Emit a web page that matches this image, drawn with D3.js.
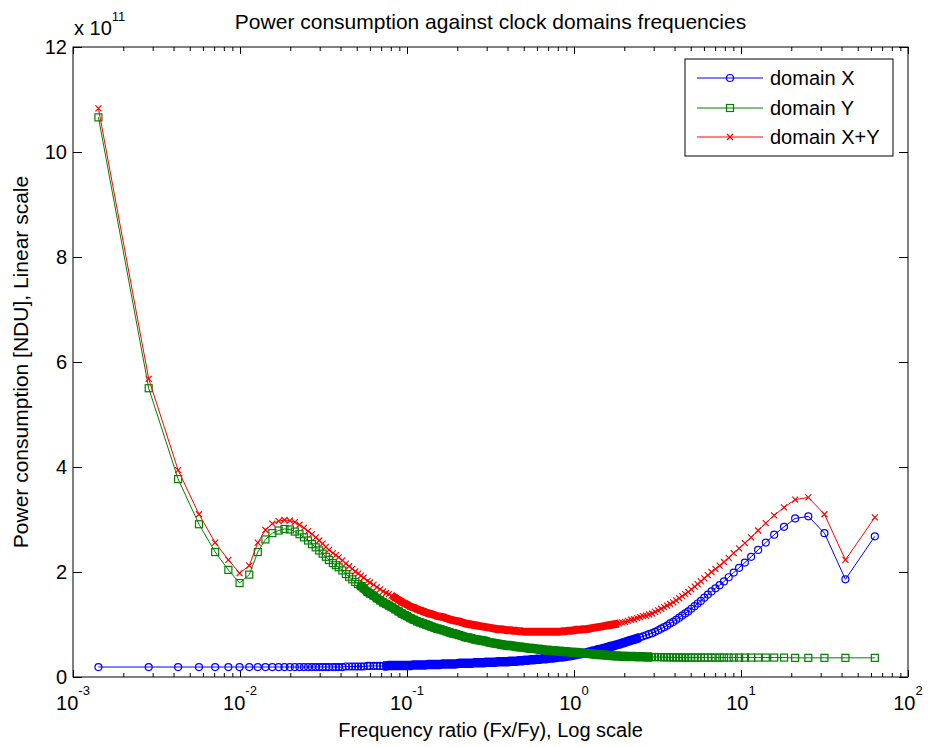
<!DOCTYPE html>
<html>
<head>
<meta charset="utf-8">
<title>Power consumption against clock domains frequencies</title>
<script src="https://cdn.jsdelivr.net/npm/d3@7"></script>
<style>
  body { margin: 0; background: #ffffff; }
  text { font-family: "Liberation Sans", Arial, Helvetica, sans-serif; fill: #000; }
</style>
</head>
<body>
<div id="chart"></div>
<script>
// Frequency ratio Fx/Fy (x axis, log scale)
var ratio = [
  0.00142, 0.00284, 0.00426, 0.00568, 0.0071, 0.00852, 0.00994, 0.01136, 0.01278, 0.0142,
  0.01562, 0.01704, 0.01846, 0.01988, 0.0213, 0.02272, 0.02414, 0.02556, 0.02698, 0.0284,
  0.02982, 0.03124, 0.03266, 0.03408,
  0.036, 0.0375, 0.039, 0.041, 0.043, 0.045, 0.047, 0.049, 0.051, 0.053,
  0.055, 0.058, 0.060, 0.063, 0.066, 0.069, 0.072, 0.075, 0.078, 0.081,
  0.085, 0.089, 0.093, 0.097, 0.100, 0.105, 0.110, 0.115, 0.120, 0.125,
  0.130, 0.135, 0.140, 0.146, 0.152, 0.158, 0.165, 0.172, 0.180, 0.188,
  0.196, 0.205, 0.214, 0.223, 0.232, 0.242, 0.252, 0.263, 0.274, 0.286,
  0.298, 0.310, 0.323, 0.337, 0.351, 0.366, 0.382, 0.398, 0.415, 0.432,
  0.450, 0.470, 0.490, 0.510, 0.530, 0.555, 0.580, 0.605, 0.630, 0.655,
  0.685, 0.715, 0.745, 0.775, 0.810, 0.845, 0.880, 0.920, 0.960, 1.000,
  1.04, 1.085, 1.13, 1.18, 1.23, 1.28, 1.335, 1.39, 1.45, 1.51,
  1.575, 1.64, 1.71, 1.785, 1.86, 1.94, 2.02, 2.105, 2.195, 2.29,
  2.385, 2.485, 2.59, 2.70, 2.815, 2.935, 3.06, 3.19, 3.325, 3.465,
  3.61, 3.765, 3.925, 4.09, 4.265, 4.445, 4.635, 4.83, 5.04,
  5.275, 5.50, 5.75, 6.03, 6.33, 6.66, 7.03, 7.45, 7.91, 8.44,
  9.04, 9.74, 10.55, 11.5, 12.66, 14.07, 15.8, 18.1, 21.1, 25.3,
  31.6, 42.2, 63.3
];

// Power of domain X (x 1e11 NDU)
var powerX = [
  0.19, 0.19, 0.19, 0.19, 0.19, 0.19, 0.19, 0.19, 0.19, 0.19,
  0.19, 0.19, 0.19, 0.19, 0.19, 0.19, 0.19, 0.19, 0.19, 0.19,
  0.19, 0.19, 0.19, 0.19,
  0.19, 0.19, 0.19, 0.19, 0.20, 0.20, 0.20, 0.20, 0.20, 0.20,
  0.20, 0.21, 0.21, 0.21, 0.21, 0.21, 0.21, 0.21, 0.22, 0.22,
  0.22, 0.22, 0.22, 0.22, 0.22, 0.22, 0.23, 0.23, 0.23, 0.23,
  0.23, 0.24, 0.24, 0.24, 0.24, 0.24, 0.25, 0.25, 0.25, 0.25,
  0.25, 0.26, 0.26, 0.26, 0.26, 0.26, 0.27, 0.27, 0.27, 0.27,
  0.28, 0.28, 0.28, 0.28, 0.29, 0.29, 0.29, 0.29, 0.30, 0.30,
  0.30, 0.31, 0.31, 0.32, 0.32, 0.33, 0.33, 0.34, 0.34, 0.35,
  0.35, 0.36, 0.36, 0.37, 0.38, 0.38, 0.39, 0.40, 0.41, 0.42,
  0.43, 0.44, 0.45, 0.46, 0.475, 0.49, 0.50, 0.52, 0.53, 0.545,
  0.56, 0.58, 0.59, 0.61, 0.625, 0.645, 0.66, 0.68, 0.70, 0.715,
  0.735, 0.755, 0.775, 0.795, 0.815, 0.835, 0.86, 0.89, 0.92, 0.95,
  0.98, 1.02, 1.05, 1.09, 1.13, 1.17, 1.21, 1.25, 1.30,
  1.35, 1.40, 1.45, 1.51, 1.57, 1.63, 1.69, 1.75, 1.82, 1.90,
  1.99, 2.08, 2.18, 2.29, 2.42, 2.56, 2.71, 2.86, 3.02, 3.06,
  2.74, 1.86, 2.68
];

// Power of domain Y
var powerY = [
  10.66, 5.50, 3.77, 2.91, 2.38, 2.04, 1.79, 1.95, 2.38, 2.62,
  2.74, 2.79, 2.82, 2.81, 2.77, 2.72, 2.66, 2.60, 2.53, 2.47,
  2.41, 2.35, 2.29, 2.23,
  2.17, 2.13, 2.09, 2.03, 1.96, 1.91, 1.86, 1.81, 1.77, 1.73,
  1.69, 1.62, 1.59, 1.55, 1.50, 1.46, 1.42, 1.39, 1.36, 1.33,
  1.29, 1.25, 1.21, 1.18, 1.16, 1.12, 1.09, 1.06, 1.04, 1.02,
  1.00, 0.98, 0.96, 0.94, 0.92, 0.91, 0.89, 0.87, 0.85, 0.83,
  0.82, 0.80, 0.78, 0.76, 0.75, 0.74, 0.72, 0.71, 0.70, 0.69,
  0.68, 0.66, 0.65, 0.64, 0.63, 0.62, 0.61, 0.60, 0.60, 0.59,
  0.58, 0.57, 0.57, 0.56, 0.55, 0.55, 0.54, 0.53, 0.53, 0.52,
  0.51, 0.51, 0.50, 0.50, 0.49, 0.49, 0.48, 0.48, 0.47, 0.47,
  0.465, 0.46, 0.455, 0.45, 0.445, 0.44, 0.435, 0.43, 0.425, 0.42,
  0.415, 0.41, 0.405, 0.40, 0.40, 0.395, 0.395, 0.39, 0.39, 0.39,
  0.385, 0.385, 0.385, 0.38, 0.38, 0.38, 0.38, 0.38, 0.378, 0.377,
  0.376, 0.375, 0.374, 0.373, 0.372, 0.371, 0.37, 0.37, 0.37,
  0.37, 0.37, 0.37, 0.37, 0.37, 0.37, 0.37, 0.37, 0.37, 0.37,
  0.37, 0.37, 0.37, 0.37, 0.37, 0.37, 0.37, 0.37, 0.365, 0.365,
  0.365, 0.365, 0.365
];

// Power of domain X+Y
var powerXY = [
  10.83, 5.68, 3.94, 3.10, 2.56, 2.23, 1.98, 2.12, 2.56, 2.80,
  2.92, 2.97, 2.99, 2.98, 2.95, 2.90, 2.84, 2.78, 2.72, 2.66,
  2.60, 2.54, 2.48, 2.42,
  2.36, 2.32, 2.28, 2.22, 2.16, 2.11, 2.06, 2.01, 1.97, 1.93,
  1.89, 1.83, 1.80, 1.76, 1.71, 1.67, 1.63, 1.60, 1.58, 1.55,
  1.51, 1.47, 1.43, 1.40, 1.38, 1.34, 1.32, 1.29, 1.27, 1.25,
  1.23, 1.21, 1.20, 1.18, 1.16, 1.15, 1.14, 1.12, 1.10, 1.08,
  1.07, 1.06, 1.04, 1.02, 1.01, 1.00, 0.99, 0.98, 0.97, 0.96,
  0.95, 0.94, 0.93, 0.92, 0.91, 0.91, 0.90, 0.89, 0.89, 0.88,
  0.88, 0.87, 0.87, 0.86, 0.86, 0.86, 0.86, 0.86, 0.86, 0.86,
  0.86, 0.86, 0.86, 0.86, 0.86, 0.87, 0.87, 0.88, 0.88, 0.89,
  0.90, 0.90, 0.91, 0.91, 0.92, 0.93, 0.94, 0.95, 0.96, 0.97,
  0.98, 0.99, 1.00, 1.01, 1.02, 1.04, 1.05, 1.07, 1.09, 1.10,
  1.12, 1.14, 1.16, 1.17, 1.19, 1.21, 1.24, 1.27, 1.30, 1.33,
  1.36, 1.39, 1.42, 1.46, 1.50, 1.54, 1.58, 1.62, 1.67,
  1.72, 1.77, 1.82, 1.88, 1.94, 2.00, 2.06, 2.12, 2.19, 2.27,
  2.36, 2.45, 2.55, 2.66, 2.79, 2.93, 3.08, 3.23, 3.38, 3.42,
  3.10, 2.23, 3.04
];

// Axis ticks and legend labels
var xDecades = [-3, -2, -1, 0, 1, 2];
var yTicks = [0, 2, 4, 6, 8, 10, 12];
var seriesNames = ["domain X", "domain Y", "domain X+Y"];
var seriesColors = ["#0000ff", "#008000", "#ff0000"];
var seriesMarkers = ["circle", "square", "x"];
// ratio range where the original sampling is so dense the markers merge into a band
var bandRanges = [[0.072, 2.5], [0.05, 3.0], [0.08, 1.9]];
var bandWidths = [9.5, 9.5, 8];

// Define SVG area dimensions
var svgWidth = 928;
var svgHeight = 747;

var margin = {
  top: 47,
  right: 20,
  bottom: 70,
  left: 73
};

var width = svgWidth - margin.left - margin.right;
var height = svgHeight - margin.top - margin.bottom;

var svg = d3.select("#chart")
  .append("svg")
  .attr("width", svgWidth)
  .attr("height", svgHeight);

svg.append("rect")
  .attr("width", svgWidth)
  .attr("height", svgHeight)
  .attr("fill", "#ffffff");

var chartGroup = svg.append("g")
  .attr("transform", `translate(${margin.left}, ${margin.top})`);

// Scales
var xLogScale = d3.scaleLog()
  .domain([1e-3, 1e2])
  .range([0, width]);

var yLinearScale = d3.scaleLinear()
  .domain([0, 12])
  .range([height, 0]);

// Tick values
var majorTicks = xDecades.map(d => Math.pow(10, d));
var minorTicks = [];
xDecades.slice(0, -1).forEach(function(d) {
  for (var m = 2; m <= 9; m++) {
    minorTicks.push(m * Math.pow(10, d));
  }
});

// Axes (ticks point inward, like matlab)
function addAxis(axis, transform) {
  var g = chartGroup.append("g")
    .attr("transform", transform)
    .call(axis);
  g.select(".domain").remove();
  g.selectAll("line").attr("stroke", "#000").attr("stroke-width", 1);
  return g;
}

addAxis(d3.axisBottom(xLogScale).tickValues(minorTicks).tickSize(-4).tickFormat(""), `translate(0, ${height})`);
addAxis(d3.axisBottom(xLogScale).tickValues(majorTicks).tickSize(-7).tickFormat(""), `translate(0, ${height})`);
addAxis(d3.axisTop(xLogScale).tickValues(minorTicks).tickSize(-4).tickFormat(""), "translate(0, 0)");
addAxis(d3.axisTop(xLogScale).tickValues(majorTicks).tickSize(-7).tickFormat(""), "translate(0, 0)");
addAxis(d3.axisLeft(yLinearScale).tickValues(yTicks).tickSize(-9).tickFormat(""), "translate(0, 0)");
addAxis(d3.axisRight(yLinearScale).tickValues(yTicks).tickSize(-9).tickFormat(""), `translate(${width}, 0)`);

// box
chartGroup.append("rect")
  .attr("x", 0)
  .attr("y", 0)
  .attr("width", width)
  .attr("height", height)
  .attr("fill", "none")
  .attr("stroke", "#000")
  .attr("stroke-width", 1);

// y tick labels
chartGroup.selectAll(".ylab")
  .data(yTicks)
  .enter()
  .append("text")
  .attr("class", "ylab")
  .attr("x", -6)
  .attr("y", d => yLinearScale(d))
  .attr("dy", "0.36em")
  .attr("text-anchor", "end")
  .attr("font-size", 20)
  .text(d => d);

// x tick labels as 10^n
var xLabels = chartGroup.selectAll(".xlab")
  .data(xDecades)
  .enter()
  .append("text")
  .attr("class", "xlab")
  .attr("x", d => xLogScale(Math.pow(10, d)))
  .attr("y", height + 33)
  .attr("text-anchor", "middle")
  .attr("font-size", 20);
xLabels.append("tspan").text("10");
xLabels.append("tspan")
  .attr("dy", -15)
  .attr("font-size", 13)
  .text(d => String(d));

// exponent label above the y axis
var expLabel = chartGroup.append("text")
  .attr("x", 1)
  .attr("y", -12)
  .attr("font-size", 20);
expLabel.append("tspan").text("x 10");
expLabel.append("tspan").attr("dy", -14).attr("font-size", 13).text("11");

// title and axis labels
chartGroup.append("text")
  .attr("x", width / 2)
  .attr("y", -18)
  .attr("text-anchor", "middle")
  .attr("font-size", 21)
  .text("Power consumption against clock domains frequencies");

chartGroup.append("text")
  .attr("x", width / 2)
  .attr("y", height + 60)
  .attr("text-anchor", "middle")
  .attr("font-size", 20)
  .text("Frequency ratio (Fx/Fy), Log scale");

chartGroup.append("text")
  .attr("transform", `translate(${28 - margin.left}, ${height / 2}) rotate(-90)`)
  .attr("text-anchor", "middle")
  .attr("font-size", 21)
  .text("Power consumption [NDU], Linear scale");

// marker drawing
function drawMarker(sel, type, color) {
  if (type === "circle") {
    sel.append("circle").attr("r", 3.5);
  } else if (type === "square") {
    sel.append("rect").attr("x", -3.5).attr("y", -3.5).attr("width", 7).attr("height", 7);
  } else {
    sel.append("path").attr("d", "M-3,-3L3,3M-3,3L3,-3");
  }
  sel.selectAll("*")
    .attr("fill", "none")
    .attr("stroke", color)
    .attr("stroke-width", 1.2);
}

// Lines and markers
var allSeries = [powerX, powerY, powerXY];
var lineGen = d3.line()
  .x(d => xLogScale(d[0]))
  .y(d => yLinearScale(d[1]));

allSeries.forEach(function(values, s) {
  var pts = values.map((v, i) => [ratio[i], v]);
  var g = chartGroup.append("g");

  // merged markers in the densely sampled part
  var lo = bandRanges[s][0], hi = bandRanges[s][1];
  g.append("path")
    .datum(pts.filter(p => p[0] >= lo && p[0] <= hi))
    .attr("d", lineGen)
    .attr("fill", "none")
    .attr("stroke", seriesColors[s])
    .attr("stroke-width", bandWidths[s])
    .attr("stroke-linejoin", "round");

  g.append("path")
    .datum(pts)
    .attr("d", lineGen)
    .attr("fill", "none")
    .attr("stroke", seriesColors[s])
    .attr("stroke-width", 1);

  g.selectAll("g.mk")
    .data(pts)
    .enter()
    .append("g")
    .attr("class", "mk")
    .attr("transform", d => `translate(${xLogScale(d[0])}, ${yLinearScale(d[1])})`)
    .each(function() {
      drawMarker(d3.select(this), seriesMarkers[s], seriesColors[s]);
    });
});

// Legend
var legend = svg.append("g");
legend.append("rect")
  .attr("x", 685)
  .attr("y", 59)
  .attr("width", 208)
  .attr("height", 97)
  .attr("fill", "#ffffff")
  .attr("stroke", "#000")
  .attr("stroke-width", 1);

var legendRows = [78, 108, 137];
seriesNames.forEach(function(name, s) {
  var y = legendRows[s];
  legend.append("line")
    .attr("x1", 697).attr("x2", 763)
    .attr("y1", y).attr("y2", y)
    .attr("stroke", seriesColors[s])
    .attr("stroke-width", 1);
  var mk = legend.append("g").attr("transform", `translate(730, ${y})`);
  drawMarker(mk, seriesMarkers[s], seriesColors[s]);
  legend.append("text")
    .attr("x", 770)
    .attr("y", y)
    .attr("dy", "0.36em")
    .attr("font-size", 20)
    .text(name);
});
</script>
</body>
</html>
